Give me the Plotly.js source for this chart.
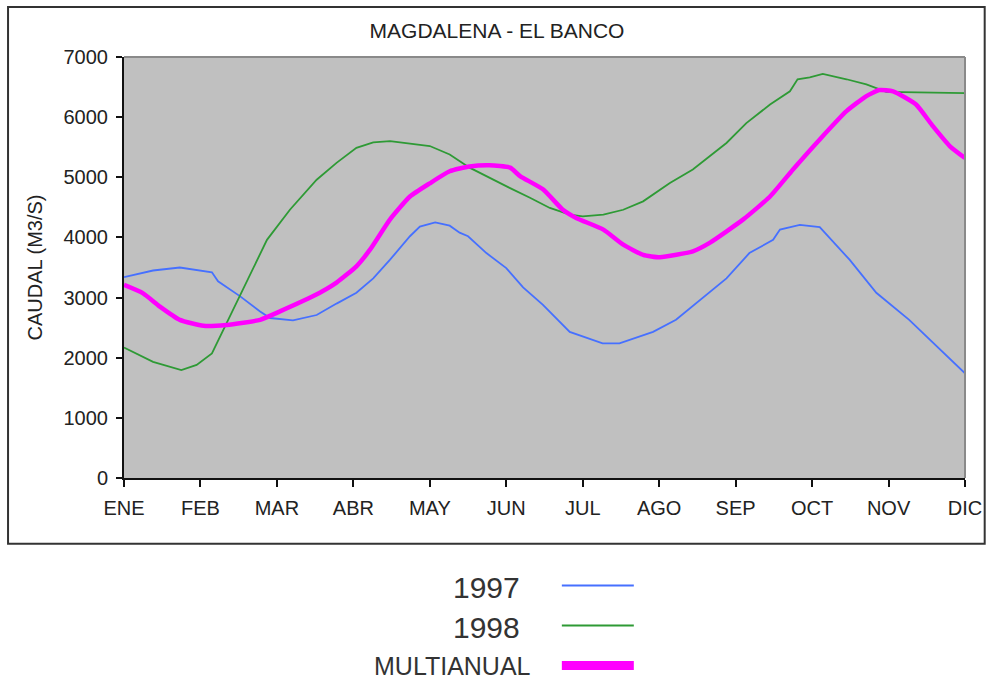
<!DOCTYPE html>
<html>
<head>
<meta charset="utf-8">
<script src="https://cdn.plot.ly/plotly-3.0.1.min.js"></script>
<style>html,body{margin:0;padding:0;background:#fff;}#chart{width:987px;height:682px;}</style>
</head>
<body>
<div id="chart"></div>
<script>
// Month tick labels (x positions are month indices 0..11)
var monthLabels = ["ENE","FEB","MAR","ABR","MAY","JUN","JUL","AGO","SEP","OCT","NOV","DIC"];
var monthTicks = [0,1,2,3,4,5,6,7,8,9,10,11];

// 1997 series (month position, caudal m3/s)
var x1997 = [0.00,0.38,0.73,1.15,1.23,1.52,1.78,1.91,2.21,2.52,2.78,3.04,3.26,3.48,3.74,3.87,4.07,4.26,4.39,4.50,4.74,5.00,5.22,5.48,5.83,6.26,6.48,6.92,7.22,7.53,7.88,8.18,8.49,8.58,8.84,9.10,9.36,9.49,9.84,10.27,11.00];
var y1997 = [3340,3450,3500,3420,3270,3020,2770,2660,2620,2710,2900,3080,3320,3630,4020,4180,4250,4195,4080,4020,3740,3490,3170,2880,2430,2240,2240,2430,2630,2960,3320,3740,3960,4130,4210,4170,3800,3630,3080,2630,1740];

// 1998 series
var x1998 = [0.00,0.38,0.75,0.95,1.15,1.34,1.52,1.87,2.17,2.52,2.78,3.04,3.26,3.48,4.00,4.26,4.52,4.78,5.05,5.31,5.57,5.83,6.00,6.27,6.53,6.79,7.14,7.44,7.88,8.14,8.45,8.71,8.81,8.97,9.14,9.45,9.71,9.97,11.00];
var y1998 = [2170,1930,1795,1880,2070,2570,3045,3960,4460,4960,5240,5490,5580,5600,5520,5380,5160,4990,4820,4660,4490,4380,4350,4380,4460,4600,4905,5130,5570,5900,6210,6430,6630,6660,6720,6630,6545,6420,6400];

// Multianual series
var xMulti = [0.00,0.25,0.47,0.73,1.04,1.34,1.78,2.04,2.47,2.78,3.04,3.22,3.48,3.74,4.00,4.26,4.52,4.78,5.05,5.18,5.48,5.74,5.92,6.27,6.53,6.79,7.01,7.44,7.66,8.10,8.45,8.75,9.10,9.45,9.71,9.88,10.06,10.36,10.58,10.80,11.00];
var yMulti = [3210,3070,2850,2630,2530,2545,2630,2770,3020,3250,3520,3800,4300,4680,4900,5100,5180,5200,5160,5020,4800,4460,4320,4130,3880,3710,3670,3770,3910,4300,4680,5130,5630,6100,6350,6450,6430,6210,5850,5520,5320];

var seriesNames = ["1997","1998","MULTIANUAL"];
var seriesColors = ["#4670FF","#2E9A35","#FF00FF"];
var seriesWidths = [1.8,1.8,4.5];

var traces = [
  {x:x1997, y:y1997, name:seriesNames[0], type:"scatter", mode:"lines",
   line:{color:seriesColors[0], width:seriesWidths[0]}},
  {x:x1998, y:y1998, name:seriesNames[1], type:"scatter", mode:"lines",
   line:{color:seriesColors[1], width:seriesWidths[1]}},
  {x:xMulti, y:yMulti, name:seriesNames[2], type:"scatter", mode:"lines",
   line:{color:seriesColors[2], width:seriesWidths[2], shape:"spline", smoothing:0.5}}
];

var FONT = "Liberation Sans, Arial, sans-serif";
// plot area geometry helpers for legend placement (paper coords)
var L = 124, R = 965.3, T = 57, B = 477.7;
function px(xp){ return (xp - L) / (R - L); }
function py(yp){ return (B - yp) / (B - T); }

var legendY = [585, 625, 665];
var legendTextY = [586.7, 626.7, 665.5];
var legendTextRight = [522, 522, 533.3];
var legendSizes = [30, 30, 25];

var shapes = [
  // outer frame
  {type:"rect", xref:"paper", yref:"paper", x0:px(8), x1:px(985), y0:py(543.5), y1:py(7),
   line:{color:"#333333", width:2}, layer:"below"},
  // gray top and right plot border
  {type:"line", xref:"paper", yref:"paper", x0:0, x1:1, y0:1, y1:1, line:{color:"#8a8a8a", width:2}},
  {type:"line", xref:"paper", yref:"paper", x0:1, x1:1, y0:0, y1:1, line:{color:"#8a8a8a", width:2}}
];
var annotations = [];
for (var i = 0; i < 3; i++) {
  shapes.push({type:"line", xref:"paper", yref:"paper", x0:px(562), x1:px(634), y0:py(legendY[i]), y1:py(legendY[i]),
    line:{color:seriesColors[i], width: i === 2 ? 9 : 2}});
  annotations.push({xref:"paper", yref:"paper", x:px(legendTextRight[i]), y:py(legendTextY[i]),
    xanchor:"right", yanchor:"middle", showarrow:false, text:seriesNames[i],
    font:{family:FONT, size:legendSizes[i], color:"#333333"}});
}

var layout = {
  width:987, height:682,
  margin:{l:124, r:987-965.3, t:57, b:682-477.7, pad:0},
  paper_bgcolor:"#ffffff",
  plot_bgcolor:"#C0C0C0",
  showlegend:false,
  title:{text:"MAGDALENA - EL BANCO", font:{family:FONT, size:21, color:"#222222"},
         xref:"container", x:497/987, xanchor:"center", yref:"container", y:1-30.5/682, yanchor:"middle"},
  xaxis:{range:[0,11], tickvals:monthTicks, ticktext:monthLabels, showgrid:false, zeroline:false,
         showline:true, linecolor:"#111111", linewidth:2, ticks:"outside", ticklen:7, tickwidth:2, tickcolor:"#111111",
         ticklabelstandoff:4,
         tickfont:{family:FONT, size:20, color:"#222222"}, fixedrange:true},
  yaxis:{range:[0,7000], tickvals:[0,1000,2000,3000,4000,5000,6000,7000], showgrid:false, zeroline:false,
         showline:true, linecolor:"#111111", linewidth:2, ticks:"outside", ticklen:6, tickwidth:2, tickcolor:"#111111",
         ticklabelstandoff:4,
         tickfont:{family:FONT, size:20, color:"#222222"},
         title:{text:"CAUDAL (M3/S)", font:{family:FONT, size:20, color:"#222222"}, standoff:16}, fixedrange:true},
  shapes:shapes,
  annotations:annotations
};

Plotly.newPlot("chart", traces, layout, {displayModeBar:false, staticPlot:true});
</script>
</body>
</html>
